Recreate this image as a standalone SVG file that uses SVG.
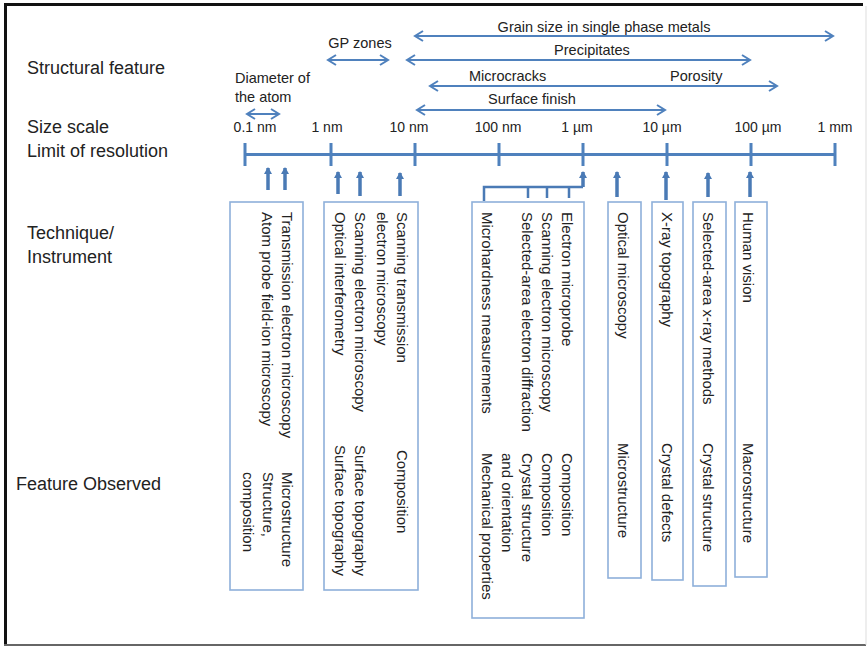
<svg xmlns="http://www.w3.org/2000/svg" width="868" height="647" viewBox="0 0 868 647">
<style>
text{font-family:"Liberation Sans",Arial,sans-serif;fill:#222}
.lab{font-size:18px}
.rng{font-size:14.5px}
.tk{font-size:14px;text-anchor:middle}
.v{font-size:15px}
.box{fill:none;stroke:#8eb0da;stroke-width:1.6}
.ax{stroke:#4f81bd;stroke-width:3;fill:none}
.ra{stroke:#4f81bd;stroke-width:2;fill:none;marker-start:url(#ch);marker-end:url(#ch)}
.up{stroke:#4a7ab5;stroke-width:3.5;fill:none;marker-start:url(#tri)}
.br{stroke:#4a7ab5;stroke-width:2.5;fill:none}
</style>
<defs>
<marker id="ch" markerUnits="userSpaceOnUse" markerWidth="12" markerHeight="14" refX="9" refY="6" orient="auto-start-reverse" viewBox="0 0 12 12">
<path d="M1,1 L9,6 L1,11" fill="none" stroke="#4f81bd" stroke-width="2"/>
</marker>
<marker id="tri" markerUnits="userSpaceOnUse" markerWidth="8" markerHeight="8" refX="6" refY="4" orient="auto-start-reverse" viewBox="0 0 8 8">
<path d="M0,0 L7,4 L0,8 Z" fill="#4a7ab5"/>
</marker>
</defs>
<rect x="0" y="0" width="868" height="647" fill="#fff"/>
<g id="frame">
<line x1="5.5" y1="3" x2="5.5" y2="646" stroke="#111" stroke-width="3"/>
<line x1="4" y1="4.5" x2="863" y2="4.5" stroke="#111" stroke-width="3"/>
<line x1="4" y1="645" x2="866" y2="645" stroke="#666" stroke-width="2"/>
<line x1="866" y1="6" x2="866" y2="645" stroke="#ddd" stroke-width="1"/>
</g>
<g id="row-labels">
<text class="lab" x="27" y="74">Structural feature</text>
<text class="lab" x="27" y="133">Size scale</text>
<text class="lab" x="27" y="157">Limit of resolution</text>
<text class="lab" x="27" y="239">Technique/</text>
<text class="lab" x="27" y="263">Instrument</text>
<text class="lab" x="16" y="490">Feature Observed</text>
</g>
<g id="scale">
<line class="ax" x1="245" y1="154.5" x2="835" y2="154.5"/>
<path class="ax" d="M245,143V166M331,143V166M415,143V166M499,143V166M583,143V166M667,143V166M751,143V166M835,143V166"/>
<text class="tk" x="255" y="132">0.1 nm</text>
<text class="tk" x="327" y="132">1 nm</text>
<text class="tk" x="409" y="132">10 nm</text>
<text class="tk" x="498" y="132">100 nm</text>
<text class="tk" x="577" y="132">1 µm</text>
<text class="tk" x="662" y="132">10 µm</text>
<text class="tk" x="758" y="132">100 µm</text>
<text class="tk" x="835" y="132">1 mm</text>
</g>
<g id="features">
<text class="rng" x="604" y="32" text-anchor="middle">Grain size in single phase metals</text>
<text class="rng" x="592" y="55" text-anchor="middle">Precipitates</text>
<text class="rng" x="360" y="48" text-anchor="middle">GP zones</text>
<text class="rng" x="469" y="81">Microcracks</text>
<text class="rng" x="670" y="81">Porosity</text>
<text class="rng" x="532" y="104" text-anchor="middle">Surface finish</text>
<text class="rng" x="235" y="83">Diameter of</text>
<text class="rng" x="235" y="102">the atom</text>
</g>
<g id="connectors">
<line class="ra" x1="415" y1="36" x2="833" y2="36"/>
<line class="ra" x1="407" y1="60" x2="750" y2="60"/>
<line class="ra" x1="328" y1="60" x2="388" y2="60"/>
<line class="ra" x1="430" y1="86" x2="777" y2="86"/>
<line class="ra" x1="417" y1="110" x2="665" y2="110"/>
<line class="ra" x1="247" y1="114" x2="279" y2="114"/>
<line class="up" x1="268" y1="168" x2="268" y2="190"/>
<line class="up" x1="285" y1="168" x2="285" y2="190"/>
<line class="up" x1="338" y1="172" x2="338" y2="194"/>
<line class="up" x1="360" y1="172" x2="360" y2="196"/>
<line class="up" x1="400" y1="173" x2="400" y2="196"/>
<line class="up" x1="617" y1="172" x2="617" y2="197"/>
<line class="up" x1="666" y1="172" x2="666" y2="200"/>
<line class="up" x1="708" y1="173" x2="708" y2="197"/>
<line class="up" x1="750" y1="172" x2="750" y2="197"/>
<path class="br" d="M484,201V187H583M528,187V198M547,187V198M569,187V198"/>
<line class="up" x1="583" y1="172" x2="583" y2="187"/>
</g>
<g id="box-atomic">
<rect class="box" x="230" y="202" width="73" height="388"/>
<text class="v" transform="translate(282,212) rotate(90)">Transmission electron microscopy</text>
<text class="v" transform="translate(262,212) rotate(90)">Atom probe field-ion microscopy</text>
<text class="v" transform="translate(282,472) rotate(90)">Microstructure</text>
<text class="v" transform="translate(263,472) rotate(90)">Structure,</text>
<text class="v" transform="translate(243,472) rotate(90)">composition</text>
</g>
<g id="box-nano">
<rect class="box" x="324" y="202" width="94" height="388"/>
<text class="v" transform="translate(397,212) rotate(90)">Scanning transmission</text>
<text class="v" transform="translate(377,212) rotate(90)">electron microscopy</text>
<text class="v" transform="translate(355,212) rotate(90)">Scanning electron microscopy</text>
<text class="v" transform="translate(335,212) rotate(90)">Optical interferometry</text>
<text class="v" transform="translate(397,450) rotate(90)">Composition</text>
<text class="v" transform="translate(355,445) rotate(90)">Surface topography</text>
<text class="v" transform="translate(335,445) rotate(90)">Surface topography</text>
</g>
<g id="box-micron">
<rect class="box" x="472" y="202" width="112" height="416"/>
<text class="v" transform="translate(562,212) rotate(90)">Electron microprobe</text>
<text class="v" transform="translate(542,212) rotate(90)">Scanning electron microscopy</text>
<text class="v" transform="translate(522,212) rotate(90)">Selected-area electron diffraction</text>
<text class="v" transform="translate(482,212) rotate(90)">Microhardness measurements</text>
<text class="v" transform="translate(562,453) rotate(90)">Composition</text>
<text class="v" transform="translate(542,453) rotate(90)">Composition</text>
<text class="v" transform="translate(522,453) rotate(90)">Crystal structure</text>
<text class="v" transform="translate(502,453) rotate(90)">and orientation</text>
<text class="v" transform="translate(482,453) rotate(90)">Mechanical properties</text>
</g>
<g id="box-optical">
<rect class="box" x="608" y="202" width="33" height="376"/>
<text class="v" transform="translate(618,212) rotate(90)">Optical microscopy</text>
<text class="v" transform="translate(618,443) rotate(90)">Microstructure</text>
</g>
<g id="box-xray-topo">
<rect class="box" x="652" y="202" width="31" height="378"/>
<text class="v" transform="translate(662,212) rotate(90)">X-ray topography</text>
<text class="v" transform="translate(662,443) rotate(90)">Crystal defects</text>
</g>
<g id="box-xray-area">
<rect class="box" x="693" y="202" width="33" height="384"/>
<text class="v" transform="translate(703,212) rotate(90)">Selected-area x-ray methods</text>
<text class="v" transform="translate(703,443) rotate(90)">Crystal structure</text>
</g>
<g id="box-vision">
<rect class="box" x="735" y="202" width="32" height="375"/>
<text class="v" transform="translate(743,212) rotate(90)">Human vision</text>
<text class="v" transform="translate(743,443) rotate(90)">Macrostructure</text>
</g>
</svg>
